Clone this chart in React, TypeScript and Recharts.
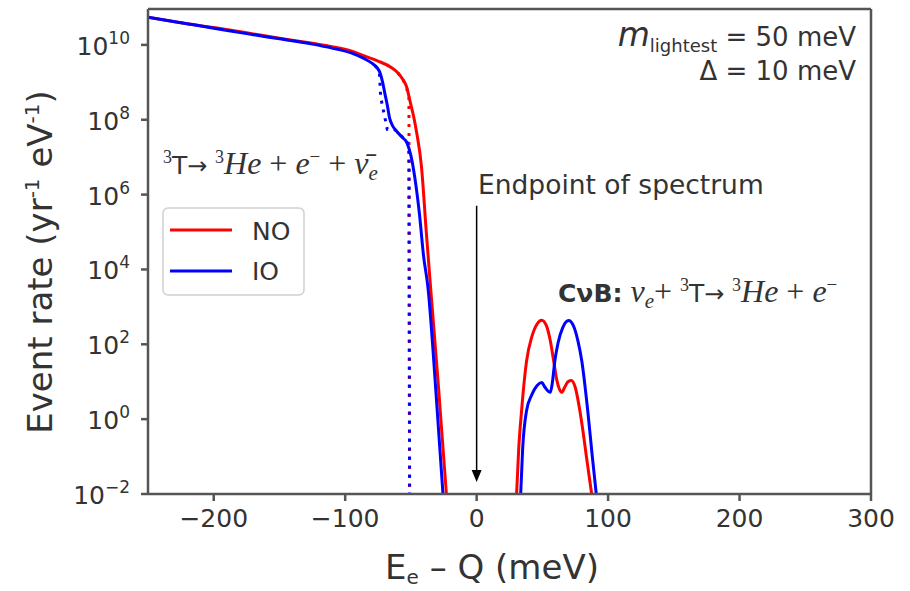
import React from "react";
import { LineChart, Line, XAxis, YAxis, ReferenceLine } from "recharts";

// beta spectrum near the endpoint (E_e - Q in meV, rate in yr^-1 eV^-1)
const noE = [-250, -225, -200, -175, -150, -125, -110, -95, -85, -75, -65, -60, -56, -53, -51, -48, -45.7, -42, -38.3, -35, -29, -23];
const noRate = [5.5e10, 3.9e10, 2.9e10, 2.1e10, 1.5e10, 1.1e10, 9e9, 6.8e9, 5.0e9, 3.7e9, 2.5e9, 1.8e9, 1.17e9, 7.1e8, 3.5e8, 1.26e8, 4.7e7, 5.8e6, 1e5, 3.2e3, 7.1, 0.01];

const ioE = [-250, -225, -200, -175, -150, -125, -110, -95, -85, -80, -76, -73.5, -71.5, -70, -68, -66.2, -64, -61, -57, -53, -50, -47, -43.4, -40.5, -37, -31, -25.6];
const ioRate = [5.5e10, 3.9e10, 2.8e10, 2.0e10, 1.45e10, 1.05e10, 8.2e9, 6.0e9, 4.2e9, 3.3e9, 2.5e9, 1.8e9, 1e9, 5.4e8, 2.5e8, 1.1e8, 7e7, 5e7, 3.5e7, 2.4e7, 1.1e7, 2.8e6, 2.8e5, 2.5e4, 3.2e3, 5.6, 0.01];

// dotted curves (sharp cut-offs)
const noDotE = [-60, -56, -53.5, -51.5, -51];
const noDotRate = [1.8e9, 1.17e9, 7.5e8, 4e8, 0.01];
const ioDotE = [-80, -76, -74, -73, -68, -63, -60, -56, -52.5, -51.5, -51];
const ioDotRate = [3.3e9, 2.5e9, 1.9e9, 4e8, 5.6e7, 5.6e7, 4.7e7, 3.3e7, 2.4e7, 1.4e7, 0.01];

// relic neutrino capture peaks
const noCvbE = [30.4, 32, 34.2, 38, 42, 46, 49.5, 53, 56, 58.6, 61, 63, 64.7, 67, 69.5, 72, 75, 78.5, 81, 83.5, 87.5];
const noCvbRate = [0.01, 0.16, 1.7, 36, 160, 350, 440, 320, 126, 36, 11, 6.3, 5.2, 7.1, 10, 10.7, 7.1, 1.7, 0.45, 0.1, 0.01];
const ioCvbE = [33.5, 35, 38, 42, 46, 49.5, 52, 56, 57.5, 59.5, 62, 65.5, 70, 73.5, 77, 80, 84.5, 88, 91];
const ioCvbRate = [0.01, 0.16, 1.7, 4.5, 7.9, 9.5, 7.1, 5.2, 8.9, 36, 112, 280, 430, 320, 126, 36, 1.7, 0.1, 0.01];

const xTicks = [-200, -100, 0, 100, 200, 300];
const yTicks = [1e-2, 1, 1e2, 1e4, 1e6, 1e8, 1e10];
const yTop = 9.1e10;

const toPts = (xs: number[], ys: number[]) => xs.map((x, i) => ({ x, y: ys[i] }));

const RED = "#ff0000";
const BLUE = "#0000ff";
const AXIS = "#555555";
const TXT = "#333333";
const SANS = "'DejaVu Sans', sans-serif";
const SERIF = "'Liberation Serif', serif";

const YTick = (props: any) => {
  const { x, y, payload } = props;
  const exp = Math.round(Math.log10(payload.value));
  return (
    <text x={x - 9} y={y + 10} textAnchor="end" fill={TXT} fontFamily={SANS} fontSize={25}>
      10
      <tspan dy={-11} fontSize={17}>{exp < 0 ? "\u2212" + -exp : String(exp)}</tspan>
    </text>
  );
};

const XTick = (props: any) => {
  const { x, y, payload } = props;
  const v = payload.value;
  return (
    <text x={x} y={y + 24} textAnchor="middle" fill={TXT} fontFamily={SANS} fontSize={25}>
      {v < 0 ? "\u2212" + -v : String(v)}
    </text>
  );
};

const Arrow = (props: any) => {
  const { x1, y1, x2, y2 } = props;
  return (
    <g>
      <line x1={x1} y1={y1} x2={x2} y2={y2 - 10} stroke="#000" strokeWidth={1.5} />
      <polygon points={`${x2 - 5},${y2 - 12} ${x2 + 5},${y2 - 12} ${x2},${y2}`} fill="#000" />
    </g>
  );
};

export default function App() {
  return (
    <div style={{ position: "absolute", left: 0, top: 0, width: 910, height: 591, background: "#fff" }}>
      <LineChart width={910} height={591} margin={{ top: 9, right: 39, bottom: 0, left: 0 }}>
        <XAxis
          type="number"
          dataKey="x"
          domain={[-250, 300]}
          ticks={xTicks}
          allowDataOverflow
          height={97}
          tickSize={7}
          tick={<XTick />}
          stroke={AXIS}
          strokeWidth={2.5}
        />
        <YAxis
          type="number"
          dataKey="y"
          scale="log"
          domain={[0.01, yTop]}
          ticks={yTicks}
          allowDataOverflow
          width={148}
          tickSize={7}
          tick={<YTick />}
          stroke={AXIS}
          strokeWidth={2.5}
        />
        <ReferenceLine x={300} stroke={AXIS} strokeWidth={2.5} />
        <ReferenceLine y={yTop} stroke={AXIS} strokeWidth={2.5} />
        <ReferenceLine
          segment={[{ x: 0, y: 5e5 }, { x: 0, y: 0.021 }]}
          shape={<Arrow />}
        />
        <Line data={toPts(noDotE, noDotRate)} dataKey="y" type="linear" stroke={RED} strokeWidth={3} strokeDasharray="3 6" dot={false} isAnimationActive={false} />
        <Line data={toPts(ioDotE, ioDotRate)} dataKey="y" type="linear" stroke={BLUE} strokeWidth={3} strokeDasharray="3 6" strokeDashoffset={4} dot={false} isAnimationActive={false} />
        <Line data={toPts(noE, noRate)} dataKey="y" type="monotone" stroke={RED} strokeWidth={3} dot={false} isAnimationActive={false} />
        <Line data={toPts(ioE, ioRate)} dataKey="y" type="monotone" stroke={BLUE} strokeWidth={3} dot={false} isAnimationActive={false} />
        <Line data={toPts(noCvbE, noCvbRate)} dataKey="y" type="monotone" stroke={RED} strokeWidth={3} dot={false} isAnimationActive={false} />
        <Line data={toPts(ioCvbE, ioCvbRate)} dataKey="y" type="monotone" stroke={BLUE} strokeWidth={3} dot={false} isAnimationActive={false} />
      </LineChart>
      <svg width={910} height={591} style={{ position: "absolute", left: 0, top: 0, pointerEvents: "none" }}>
        {/* axis titles */}
        <text transform="translate(52,262) rotate(-90)" textAnchor="middle" fill={TXT} fontFamily={SANS} fontSize={34}>
          Event rate (yr<tspan dy={-13} fontSize={20}>-1</tspan>
          <tspan dy={13}> eV</tspan>
          <tspan dy={-13} fontSize={20}>-1</tspan>
          <tspan dy={13}>)</tspan>
        </text>
        <text x={492} y={579} textAnchor="middle" fill={TXT} fontFamily={SANS} fontSize={34}>
          E<tspan dy={5} fontSize={20}>e</tspan>
          <tspan dy={-5}> {"\u2013"} Q (meV)</tspan>
        </text>

        {/* legend */}
        <rect x={163} y={208} width={141} height={87} rx={5} fill="#fff" fillOpacity={0.85} stroke="#d0d0d0" strokeWidth={1.5} />
        <line x1={170} x2={232} y1={230} y2={230} stroke={RED} strokeWidth={3} />
        <line x1={170} x2={232} y1={271} y2={271} stroke={BLUE} strokeWidth={3} />
        <text x={252} y={240} fill={TXT} fontFamily={SANS} fontSize={25}>NO</text>
        <text x={252} y={280} fill={TXT} fontFamily={SANS} fontSize={25}>IO</text>

        {/* parameters */}
        <text x={856} y={46} textAnchor="end" fill={TXT} fontFamily={SANS} fontSize={26}>
          <tspan fontStyle="italic" fontSize={33}>m</tspan>
          <tspan dy={6} fontSize={18}>lightest</tspan>
          <tspan dy={-6}> = 50 meV</tspan>
        </text>
        <text x={856} y={80} textAnchor="end" fill={TXT} fontFamily={SANS} fontSize={26}>
          {"\u0394 = 10 meV"}
        </text>

        {/* beta decay formula */}
        <text x={163} y={174} fill={TXT} fontFamily={SERIF} fontSize={32}>
          <tspan dy={-11} fontSize={18}>3</tspan>
          <tspan dy={11} fontFamily={SANS} fontSize={25}>T</tspan>
          <tspan fontFamily={SANS} fontSize={24}>{"\u2192 "}</tspan>
          <tspan dy={-11} fontSize={18}>3</tspan>
          <tspan dy={11} fontStyle="italic">He</tspan>
          <tspan>{"  +  "}</tspan>
          <tspan fontStyle="italic">e</tspan>
          <tspan dy={-11} fontSize={19}>{"\u2212"}</tspan>
          <tspan dy={11}>{"  +  "}</tspan>
          <tspan fontStyle="italic">{"\u03BD\u0304"}</tspan>
          <tspan dy={6} fontSize={21} fontStyle="italic">e</tspan>
        </text>

        {/* endpoint */}
        <text x={478} y={194} fill={TXT} fontFamily={SANS} fontSize={26.5}>Endpoint of spectrum</text>

        {/* capture formula */}
        <text x={558} y={302} fill={TXT} fontFamily={SERIF} fontSize={32}>
          <tspan fontFamily={SANS} fontWeight="bold" fontSize={25}>{"C\u03BDB:"}</tspan>
          <tspan fontStyle="italic">{" \u03BD"}</tspan>
          <tspan dy={6} fontSize={21} fontStyle="italic">e</tspan>
          <tspan dy={-6}>+ </tspan>
          <tspan dy={-11} fontSize={18}>3</tspan>
          <tspan dy={11} fontFamily={SANS} fontSize={25}>T</tspan>
          <tspan fontFamily={SANS} fontSize={24}>{"\u2192 "}</tspan>
          <tspan dy={-11} fontSize={18}>3</tspan>
          <tspan dy={11} fontStyle="italic">He</tspan>
          <tspan>{" + "}</tspan>
          <tspan fontStyle="italic">e</tspan>
          <tspan dy={-11} fontSize={19}>{"\u2212"}</tspan>
        </text>
      </svg>
    </div>
  );
}
